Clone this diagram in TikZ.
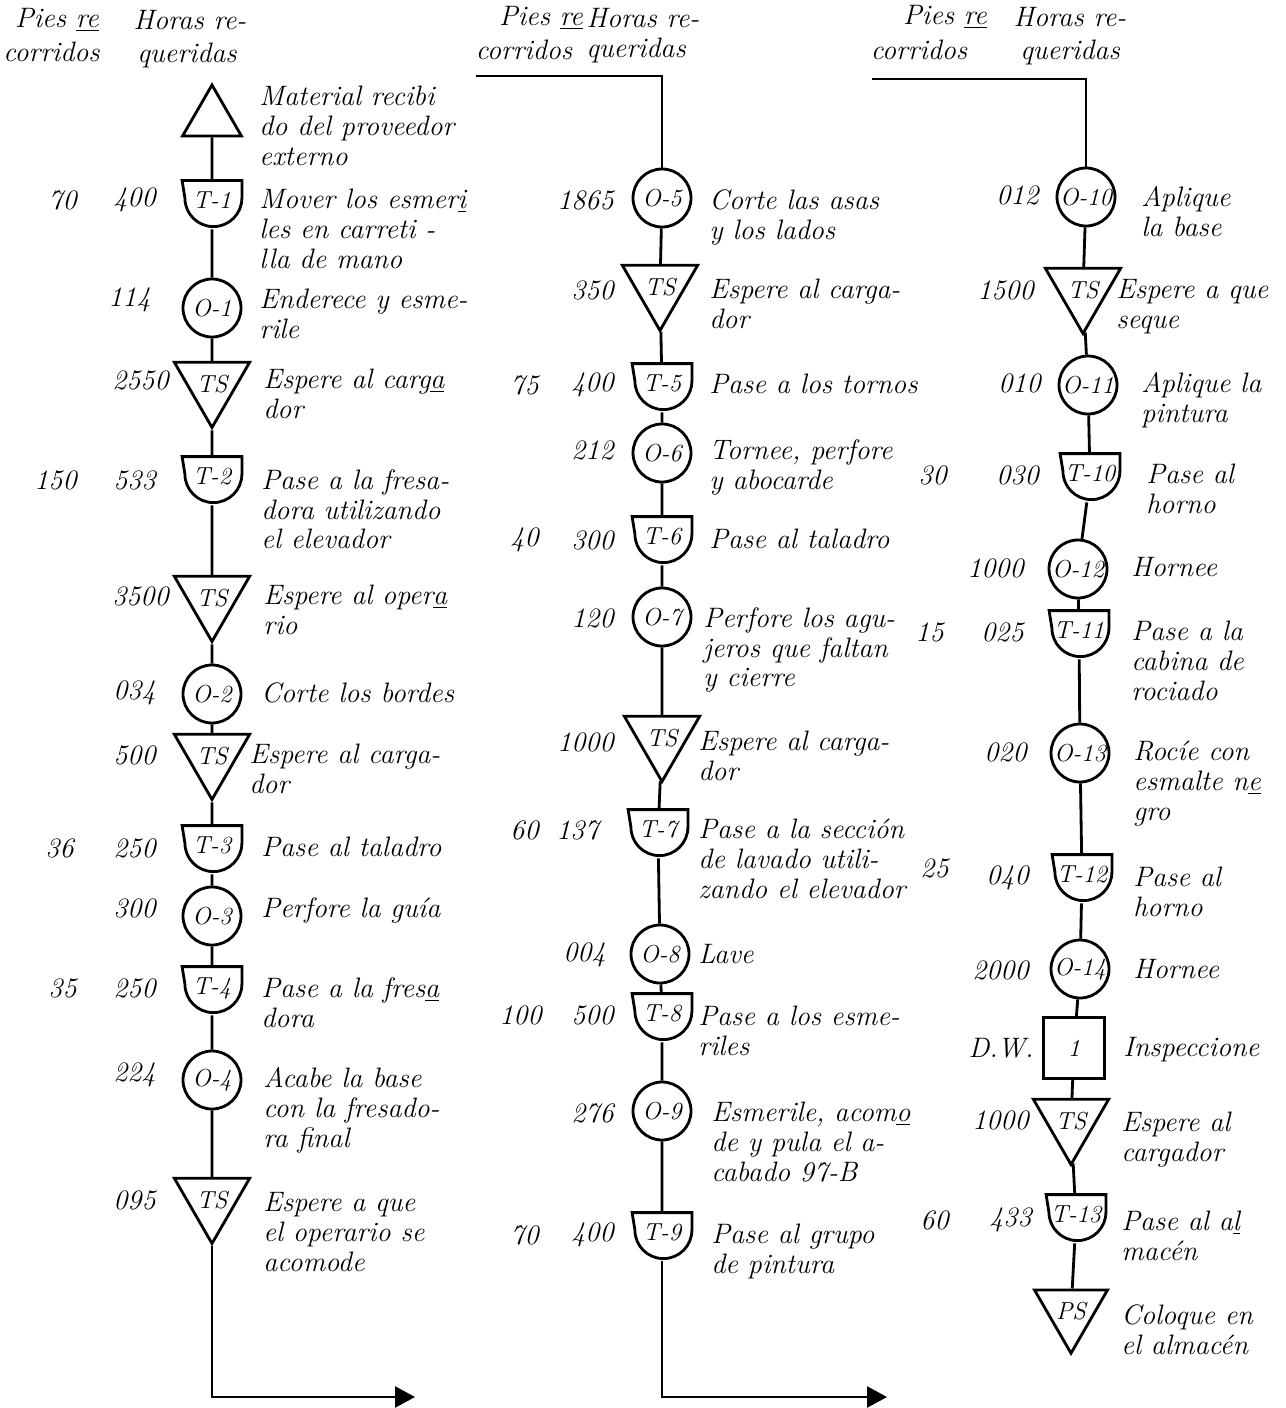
\documentclass[tikz,border=0pt]{standalone}
\usepackage{tikz}
\usetikzlibrary{shapes.geometric, arrows.meta, positioning}
\newcommand{\handfont}{\fontsize{16}{17}\selectfont\itshape}
\newcommand{\shplabel}{\fontsize{14}{15}\selectfont\itshape}

\begin{document}
\begin{tikzpicture}[
    x=0.2mm, y=-0.2mm,
    line width=1.6pt,
    oper/.style={circle, draw, minimum size=11.6mm, inner sep=0pt, font=\shplabel},
    waitbox/.style={regular polygon, regular polygon sides=3, shape border rotate=180, draw, minimum size=14.8mm, inner sep=0pt, font=\shplabel},
    store/.style={regular polygon, regular polygon sides=3, draw, minimum size=13.6mm, inner sep=0pt},
    insp/.style={rectangle, draw, minimum size=12.2mm, inner sep=0pt, font=\shplabel},
    transp/.style={rectangle, minimum width=11.4mm, minimum height=9.2mm, inner sep=0pt, font=\shplabel,
        text height=2.8mm, text depth=1.4mm,
        append after command={\pgfextra{\let\trnode\tikzlastnode
            \draw[line width=1.6pt] (\trnode.north west) -- (\trnode.north east) -- ++(0,-3.5mm)
                arc[start angle=0, end angle=-180, radius=5.7mm] -- cycle;}}},
    desc/.style={anchor=north west, align=left, inner sep=0pt, font=\handfont},
    num/.style={anchor=east, inner sep=0pt, font=\handfont},
    head/.style={inner sep=0pt, font=\handfont},
    flow/.style={-{Triangle[length=4mm, width=4.2mm]}}
]
\useasboundingbox (0,0) rectangle (1285,1408);

% Headings
\node[head] (hp1) at (57,20) {Pies \underline{re}};
\node[head, anchor=west] (hc1) at (2,52) {corridos};
\node[head] (hh1) at (190,20) {Horas re-};
\node[head] (hq1) at (187,55) {queridas};
\node[head] (hp2) at (541,18) {Pies \underline{re}};
\node[head] (hc2) at (524,50) {corridos};
\node[head] (hh2) at (643,18) {Horas re-};
\node[head] (hq2) at (636,50) {queridas};
\node[head] (hp3) at (945,17) {Pies \underline{re}};
\node[head] (hc3) at (919,50) {corridos};
\node[head] (hh3) at (1070,17) {Horas re-};
\node[head] (hq3) at (1070,52) {queridas};

% Column 1
\node[store] (mat) at (212,119) {};
\node[transp] (t1) at (212,205) {T-1};
\node[oper] (o1) at (212,308) {O-1};
\node[waitbox] (w1) at (212,384) {TS};
\node[transp] (t2) at (212,481) {T-2};
\node[waitbox] (w2) at (212,598) {TS};
\node[oper] (o2) at (212,694) {O-2};
\node[waitbox] (w3) at (212,756) {TS};
\node[transp] (t3) at (212,850) {T-3};
\node[oper] (o3) at (212,916) {O-3};
\node[transp] (t4) at (212,991) {T-4};
\node[oper] (o4) at (212,1080) {O-4};
\node[waitbox] (w4) at (212,1200) {TS};
\coordinate (out1) at (415,1397);

\draw (mat) -- (t1) (t1) -- (o1) (o1) -- (w1) (w1) -- (t2) (t2) -- (w2) (w2) -- (o2)
      (o2) -- (w3) (w3) -- (t3) (t3) -- (o3) (o3) -- (t4) (t4) -- (o4) (o4) -- (w4);
\draw[flow] (w4) |- (out1);

\node[num] (p1a) at (78,200) {70};
\node[num] (p1b) at (78,480) {150};
\node[num] (p1c) at (75,848) {36};
\node[num] (p1d) at (78,988) {35};
\node[num] (h1a) at (157,200) {400};
\node[num] (h1b) at (152,300) {114};
\node[num] (h1c) at (170,380) {2550};
\node[num] (h1d) at (157,480) {533};
\node[num] (h1e) at (170,596) {3500};
\node[num] (h1f) at (157,693) {034};
\node[num] (h1g) at (157,755) {500};
\node[num] (h1h) at (157,848) {250};
\node[num] (h1i) at (157,908) {300};
\node[num] (h1j) at (157,988) {250};
\node[num] (h1k) at (157,1075) {224};
\node[num] (h1l) at (157,1200) {095};

\node[desc] (d1a) at (258,85) {Material recibi\\do del proveedor\\externo};
\node[desc] (d1b) at (258,188) {Mover los esmer\underline{i}\\les en carreti -\\lla de mano};
\node[desc] (d1c) at (258,288) {Enderece y esme-\\rile};
\node[desc] (d1d) at (262,368) {Espere al carg\underline{a}\\dor};
\node[desc] (d1e) at (260,468) {Pase a la fresa-\\dora utilizando\\el elevador};
\node[desc] (d1f) at (262,584) {Espere al oper\underline{a}\\rio};
\node[desc] (d1g) at (260,681) {Corte los bordes};
\node[desc] (d1h) at (248,743) {Espere al carga-\\dor};
\node[desc] (d1i) at (260,836) {Pase al taladro};
\node[desc] (d1j) at (260,896) {Perfore la guía};
\node[desc] (d1k) at (260,976) {Pase a la fres\underline{a}\\dora};
\node[desc] (d1l) at (262,1066) {Acabe la base\\con la fresado-\\ra final};
\node[desc] (d1m) at (262,1191) {Espere a que\\el operario se\\acomode};

% Column 2
\coordinate (in2) at (476,76);
\node[oper] (o5) at (662,198) {O-5};
\node[waitbox] (w5) at (660,287) {TS};
\node[transp] (t5) at (662,388) {T-5};
\node[oper] (o6) at (662,453) {O-6};
\node[transp] (t6) at (662,541) {T-6};
\node[oper] (o7) at (662,617) {O-7};
\node[waitbox] (w6) at (662,738) {TS};
\node[transp] (t7) at (658,834) {T-7};
\node[oper] (o8) at (660,954) {O-8};
\node[transp] (t8) at (662,1018) {T-8};
\node[oper] (o9) at (662,1111) {O-9};
\node[transp] (t9) at (662,1237) {T-9};
\coordinate (out2) at (887,1397);

\draw (in2) -| (o5);
\draw (o5) -- (w5) (w5) -- (t5) (t5) -- (o6) (o6) -- (t6) (t6) -- (o7) (o7) -- (w6)
      (w6) -- (t7) (t7) -- (o8) (o8) -- (t8) (t8) -- (o9) (o9) -- (t9);
\draw[flow] (t9) |- (out2);

\node[num] (p2a) at (540,385) {75};
\node[num] (p2b) at (540,540) {40};
\node[num] (p2c) at (540,830) {60};
\node[num] (p2d) at (543,1015) {100};
\node[num] (p2e) at (540,1235) {70};
\node[num] (h2a) at (615,200) {1865};
\node[num] (h2b) at (615,290) {350};
\node[num] (h2c) at (615,385) {400};
\node[num] (h2d) at (615,450) {212};
\node[num] (h2e) at (615,540) {300};
\node[num] (h2f) at (615,618) {120};
\node[num] (h2g) at (615,742) {1000};
\node[num] (h2h) at (600,830) {137};
\node[num] (h2i) at (607,955) {004};
\node[num] (h2j) at (615,1015) {500};
\node[num] (h2k) at (615,1113) {276};
\node[num] (h2l) at (615,1235) {400};

\node[desc] (d2a) at (708,188) {Corte las asas\\y los lados};
\node[desc] (d2b) at (708,278) {Espere al carga-\\dor};
\node[desc] (d2c) at (708,373) {Pase a los tornos};
\node[desc] (d2d) at (708,438) {Tornee, perfore\\y abocarde};
\node[desc] (d2e) at (708,528) {Pase al taladro};
\node[desc] (d2f) at (702,606) {Perfore los agu-\\jeros que faltan\\y cierre};
\node[desc] (d2g) at (697,730) {Espere al carga-\\dor};
\node[desc] (d2h) at (697,818) {Pase a la sección\\de lavado utili-\\zando el elevador};
\node[desc] (d2i) at (697,943) {Lave};
\node[desc] (d2j) at (697,1005) {Pase a los esme-\\riles};
\node[desc] (d2k) at (710,1101) {Esmerile, acom\underline{o}\\de y pula el a-\\cabado 97-B};
\node[desc] (d2l) at (710,1223) {Pase al grupo\\de pintura};

% Column 3
\coordinate (in3) at (872,79);
\node[oper] (o10) at (1086,197) {O-10};
\node[waitbox] (w7) at (1083,290) {TS};
\node[oper] (o11) at (1088,385) {O-11};
\node[transp] (t10) at (1090,478) {T-10};
\node[oper] (o12) at (1078,569) {O-12};
\node[transp] (t11) at (1079,635) {T-11};
\node[oper] (o13) at (1080,753) {O-13};
\node[transp] (t12) at (1082,879) {T-12};
\node[oper] (o14) at (1080,969) {O-14};
\node[insp] (i1) at (1074,1048) {1};
\node[waitbox] (w8) at (1071,1121) {TS};
\node[transp] (t13) at (1076,1219) {T-13};
\node[waitbox] (ps) at (1071,1311) {PS};

\draw (in3) -| (o10);
\draw (o10) -- (w7) (w7) -- (o11) (o11) -- (t10) (t10) -- (o12) (o12) -- (t11) (t11) -- (o13)
      (o13) -- (t12) (t12) -- (o14) (o14) -- (i1) (i1) -- (w8) (w8) -- (t13) (t13) -- (ps);

\node[num] (p3a) at (948,475) {30};
\node[num] (p3b) at (945,632) {15};
\node[num] (p3c) at (950,868) {25};
\node[num] (p3d) at (950,1220) {60};
\node[num] (h3a) at (1040,195) {012};
\node[num] (h3b) at (1035,290) {1500};
\node[num] (h3c) at (1042,383) {010};
\node[num] (h3d) at (1040,475) {030};
\node[num] (h3e) at (1025,568) {1000};
\node[num] (h3f) at (1025,632) {025};
\node[num] (h3g) at (1028,752) {020};
\node[num] (h3h) at (1030,878) {040};
\node[num] (h3i) at (1030,970) {2000};
\node[num] (h3j) at (1035,1048) {D.W.};
\node[num] (h3k) at (1030,1120) {1000};
\node[num] (h3l) at (1033,1220) {433};

\node[desc] (d3a) at (1140,185) {Aplique\\la base};
\node[desc] (d3b) at (1115,278) {Espere a que\\seque};
\node[desc] (d3c) at (1140,371) {Aplique la\\pintura};
\node[desc] (d3d) at (1145,463) {Pase al\\horno};
\node[desc] (d3e) at (1130,556) {Hornee};
\node[desc] (d3f) at (1130,620) {Pase a la\\cabina de\\rociado};
\node[desc] (d3g) at (1132,740) {Rocíe con\\esmalte n\underline{e}\\gro};
\node[desc] (d3h) at (1132,866) {Pase al\\horno};
\node[desc] (d3i) at (1132,958) {Hornee};
\node[desc] (d3j) at (1122,1036) {Inspeccione};
\node[desc] (d3k) at (1120,1111) {Espere al\\cargador};
\node[desc] (d3l) at (1120,1210) {Pase al a\underline{l}\\macén};
\node[desc] (d3m) at (1120,1303) {Coloque en\\el almacén};

\end{tikzpicture}
\end{document}
